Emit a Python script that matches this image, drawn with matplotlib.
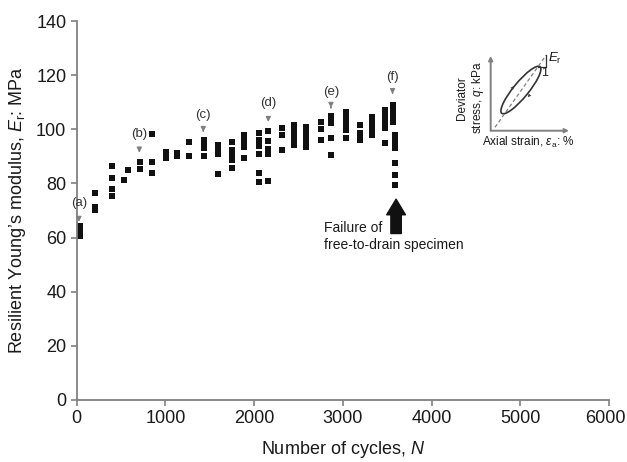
import numpy as np
import matplotlib
matplotlib.use("Agg")
import matplotlib.pyplot as plt
import matplotlib.transforms as mtransforms
from matplotlib.patches import Ellipse

plt.rcParams['font.family'] = ['Liberation Sans', 'DejaVu Sans']
plt.rcParams['mathtext.fontset'] = 'custom'
plt.rcParams['mathtext.rm'] = 'Liberation Sans'
plt.rcParams['mathtext.it'] = 'Liberation Sans:italic'

# number of cycles for each group of measurements
cycle_groups = [40, 206, 393, 533, 582, 713, 852, 1006, 1134, 1269, 1430, 1590,
                1750, 1890, 2050, 2160, 2310, 2450, 2590, 2750, 2870, 3030,
                3190, 3330, 3480, 3560, 3585]
# resilient modulus (MPa) measured in each group
modulus_groups = [
    [60.5, 61.8, 63.1, 64.4],
    [76.6, 71.4, 70.2],
    [86.4, 82.0, 77.9, 75.4],
    [81.3],
    [85.0],
    [88.0, 85.3],
    [98.3, 88.0, 84.0],
    [91.7, 89.3],
    [91.2, 90.1],
    [95.4, 90.1],
    [96.0, 94.6, 93.2, 90.0],
    [94.2, 92.5, 90.8, 83.6],
    [95.2, 92.5, 90.8, 89.3, 88.5, 85.6],
    [98.0, 96.5, 95.0, 93.3, 89.3],
    [98.5, 96.2, 93.9, 90.9, 83.8, 80.7],
    [99.4, 95.8, 92.8, 91.0, 81.0],
    [100.4, 98.0, 92.3],
    [101.6, 100.1, 98.6, 97.1, 95.6, 94.2],
    [101.0, 99.5, 98.0, 96.5, 95.0, 93.5],
    [102.8, 100.0, 96.0],
    [105.0, 103.6, 102.2, 96.7, 90.5],
    [106.4, 104.9, 102.8, 101.2, 99.7, 96.7],
    [101.5, 98.5, 97.2, 96.0],
    [104.7, 103.0, 101.3, 99.6, 97.9],
    [107.1, 105.5, 103.8, 102.1, 100.4, 94.8],
    [109.0, 107.5, 106.0, 104.4, 102.8],
    [97.9, 96.2, 94.6, 93.0, 87.4, 83.1, 79.4],
]

# stage labels (a)-(f): cycle, label height, arrow tip height
stage_labels = ['(a)', '(b)', '(c)', '(d)', '(e)', '(f)']
stage_cycles = [25, 706, 1427, 2160, 2866, 3560]
stage_text_y = [72.8, 98.3, 105.3, 109.7, 113.8, 119.3]
stage_tip_y = [65.8, 91.4, 99.0, 102.7, 107.9, 113.0]

failure_cycle = 3600

cycles = np.concatenate([[c] * len(v) for c, v in zip(cycle_groups, modulus_groups)])
modulus = np.concatenate(modulus_groups)

grey = '#808080'

fig = plt.figure(figsize=(6.27, 4.62), dpi=100)
ax = fig.add_axes([0.1223, 0.1342, 0.8490, 0.8203])

ax.plot(cycles, modulus, 's', color='#111111', markersize=4.0, markeredgewidth=0)

ax.set_xlim(0, 6000)
ax.set_ylim(0, 140)
ax.set_xticks(np.arange(0, 6001, 1000))
ax.set_yticks(np.arange(0, 141, 20))
for s in ['top', 'right']:
    ax.spines[s].set_visible(False)
for s in ['left', 'bottom']:
    ax.spines[s].set_color(grey)
    ax.spines[s].set_linewidth(1.3)
ax.tick_params(colors=grey, labelcolor='#1a1a1a', labelsize=13, length=4, width=1.2)

# keep the last x tick label inside the picture
fig.canvas.draw()
last = ax.get_xticklabels()[-1]
last.set_transform(last.get_transform() +
                   mtransforms.ScaledTranslation(-4 / 100, 0, fig.dpi_scale_trans))

ax.set_xlabel('Number of cycles, $N$', fontsize=13, color='#1a1a1a', labelpad=8)
ax.set_ylabel('Resilient Young\u2019s modulus, $E_\\mathrm{r}$: MPa', fontsize=13,
              color='#1a1a1a', labelpad=6)

for lab, c, ty, tip in zip(stage_labels, stage_cycles, stage_text_y, stage_tip_y):
    ax.annotate(lab, xy=(c, tip), xytext=(c, ty), ha='center', va='center',
                fontsize=9.5, color='#333333',
                arrowprops=dict(arrowstyle='-|>', color=grey, lw=1,
                                mutation_scale=7, shrinkA=5, shrinkB=0))

ax.annotate('', xy=(failure_cycle, 74.2), xytext=(failure_cycle, 61.5),
            arrowprops=dict(arrowstyle='simple,head_length=0.75,head_width=0.9,tail_width=0.5',
                            color='#111111', mutation_scale=15, shrinkA=0, shrinkB=0))
ax.text(2790, 63.4, 'Failure of', fontsize=10, ha='left', va='center', color='#1a1a1a')
ax.text(2790, 57.3, 'free-to-drain specimen', fontsize=10, ha='left', va='center',
        color='#1a1a1a')

# inset sketch of the hysteresis loop (units = pixels)
ins = fig.add_axes([0.7826, 0.7171, 0.1249, 0.1617])
ins.set_xlim(0, 78.3)
ins.set_ylim(0, 74.7)
ins.axis('off')
ins.annotate('', xy=(0, 74.7), xytext=(0, 0),
             arrowprops=dict(arrowstyle='-|>', color=grey, lw=1.4, mutation_scale=6,
                             shrinkA=0, shrinkB=0), annotation_clip=False)
ins.annotate('', xy=(78.3, 0), xytext=(0, 0),
             arrowprops=dict(arrowstyle='-|>', color=grey, lw=1.4, mutation_scale=6,
                             shrinkA=0, shrinkB=0), annotation_clip=False)
ins.plot([4.3, 55.5], [3.4, 75.6], '--', color=grey, lw=0.9, dashes=(3, 2), clip_on=False)
ins.add_patch(Ellipse((30.2, 40.7), 60.3, 15, angle=50.6, fill=False,
                      edgecolor='#333333', lw=1.2, clip_on=False))
ins.plot([47, 55.5, 55.5], [63.5, 63.5, 75.6], color='#333333', lw=0.9, clip_on=False)
ang = np.deg2rad(50.6)
d = np.array([np.cos(ang), np.sin(ang)]) * 2
for p, sgn in [((22.0, 43.0), 1), ((38.4, 35.0), -1)]:
    p = np.array(p)
    ins.annotate('', xy=p + sgn * d, xytext=p - sgn * d,
                 arrowprops=dict(arrowstyle='-|>', color='#333333', lw=0,
                                 mutation_scale=6, shrinkA=0, shrinkB=0),
                 annotation_clip=False)
ins.text(54.3, 58, '1', fontsize=9, ha='center', va='center', color='#1a1a1a')
ins.text(57.5, 72, '$E_\\mathrm{r}$', fontsize=9.5, ha='left', va='center', color='#1a1a1a')
ins.text(-20, 33, 'Deviator\nstress, $q$: kPa', fontsize=8.5, rotation=90, ha='center',
         va='center', multialignment='center', color='#1a1a1a', linespacing=1.15)
ins.text(37.6, -12, 'Axial strain, $\\varepsilon_\\mathrm{a}$: %', fontsize=8.5,
         ha='center', va='center', color='#1a1a1a')

fig.savefig('out.png', dpi=100)
